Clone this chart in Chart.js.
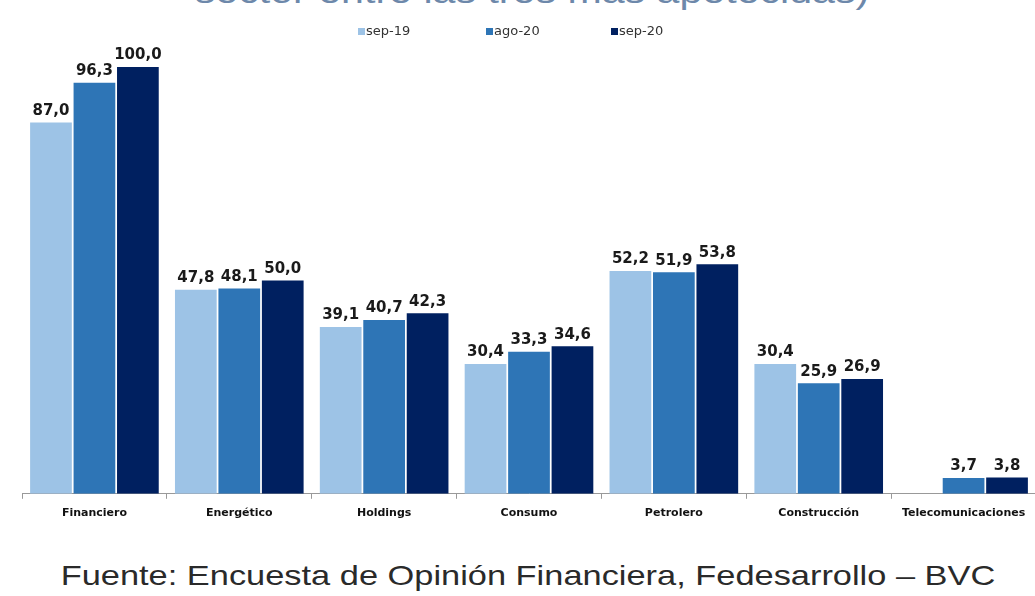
<!DOCTYPE html>
<html>
<head>
<meta charset="utf-8">
<script src="https://cdn.jsdelivr.net/npm/chart.js@4"></script>
<style>
  html, body { margin: 0; padding: 0; background: #fff; overflow: hidden; }
  body { width: 1035px; height: 596px; position: relative; font-family: "Liberation Sans", Arial, sans-serif; }
  #title { position: absolute; left: 0; width: 1064px; top: -26px; text-align: center; font-size: 34px; line-height: 34px; color: #6d88aa; white-space: nowrap; transform: scaleX(1.21); }
  #wrap { position: absolute; left: 0; top: 0; width: 1038px; height: 532px; }
  #footer { position: absolute; left: 0; width: 1056px; top: 560px; text-align: center; font-size: 28px; color: #2a2a2a; white-space: nowrap; transform: scaleX(1.228); }
</style>
</head>
<body>
<div id="title">sector entre las tres más apetecidas)</div>
<div id="wrap"><canvas id="sectorChart"></canvas></div>
<div id="footer">Fuente: Encuesta de Opinión Financiera, Fedesarrollo – BVC</div>
<script>
// Sectores y porcentajes
const sectors = ['Financiero', 'Energético', 'Holdings', 'Consumo', 'Petrolero', 'Construcción', 'Telecomunicaciones'];
const seriesNames = ['sep-19', 'ago-20', 'sep-20'];
const sep19 = [87.0, 47.8, 39.1, 30.4, 52.2, 30.4, null];
const ago20 = [96.3, 48.1, 40.7, 33.3, 51.9, 25.9, 3.7];
const sep20 = [100.0, 50.0, 42.3, 34.6, 53.8, 26.9, 3.8];
const barColors = ['#9dc3e6', '#2e75b6', '#002060'];

// Etiquetas de valor encima de cada barra
const valueLabels = {
    id: 'valueLabels',
    afterDatasetsDraw(chart) {
        const ctx = chart.ctx;
        ctx.save();
        ctx.font = 'bold 15px "DejaVu Sans", sans-serif';
        ctx.fillStyle = '#1a1a1a';
        ctx.textAlign = 'center';
        ctx.textBaseline = 'bottom';
        chart.data.datasets.forEach((ds, i) => {
            chart.getDatasetMeta(i).data.forEach((bar, j) => {
                const v = ds.data[j];
                if (v === null) return;
                ctx.fillText(v.toFixed(1).replace('.', ','), bar.x, bar.y - 4);
            });
        });
        ctx.restore();
    }
};

// Leyenda con cuadritos, separada como en el original
const topLegend = {
    id: 'topLegend',
    afterDraw(chart) {
        const ctx = chart.ctx;
        const startX = [358, 486, 611];
        ctx.save();
        ctx.font = '13px "DejaVu Sans", sans-serif';
        ctx.textBaseline = 'middle';
        chart.data.datasets.forEach((ds, i) => {
            ctx.fillStyle = ds.backgroundColor;
            ctx.fillRect(startX[i], 28, 7, 7);
            ctx.fillStyle = '#333';
            ctx.fillText(ds.label, startX[i] + 8, 32);
        });
        ctx.restore();
    }
};

const ctx = document.getElementById('sectorChart').getContext('2d');
new Chart(ctx, {
    type: 'bar',
    data: {
        labels: sectors,
        datasets: [
            { label: seriesNames[0], data: sep19, backgroundColor: barColors[0] },
            { label: seriesNames[1], data: ago20, backgroundColor: barColors[1] },
            { label: seriesNames[2], data: sep20, backgroundColor: barColors[2] }
        ]
    },
    options: {
        responsive: true,
        maintainAspectRatio: false,
        animation: false,
        layout: { padding: { top: 67, left: 22, right: 2, bottom: 4 } },
        datasets: { bar: { categoryPercentage: 0.9, barPercentage: 0.96 } },
        plugins: {
            legend: { display: false },
            tooltip: { enabled: false }
        },
        scales: {
            y: { display: false, min: 0, max: 100 },
            x: {
                grid: { display: true, drawOnChartArea: false, offset: true, tickLength: 5, color: '#999' },
                border: { display: true, color: '#999' },
                ticks: {
                    color: '#111',
                    maxRotation: 0,
                    autoSkip: false,
                    padding: 8,
                    font: { family: '"DejaVu Sans", sans-serif', size: 11, weight: 'bold' }
                }
            }
        }
    },
    plugins: [valueLabels, topLegend]
});
</script>
</body>
</html>
